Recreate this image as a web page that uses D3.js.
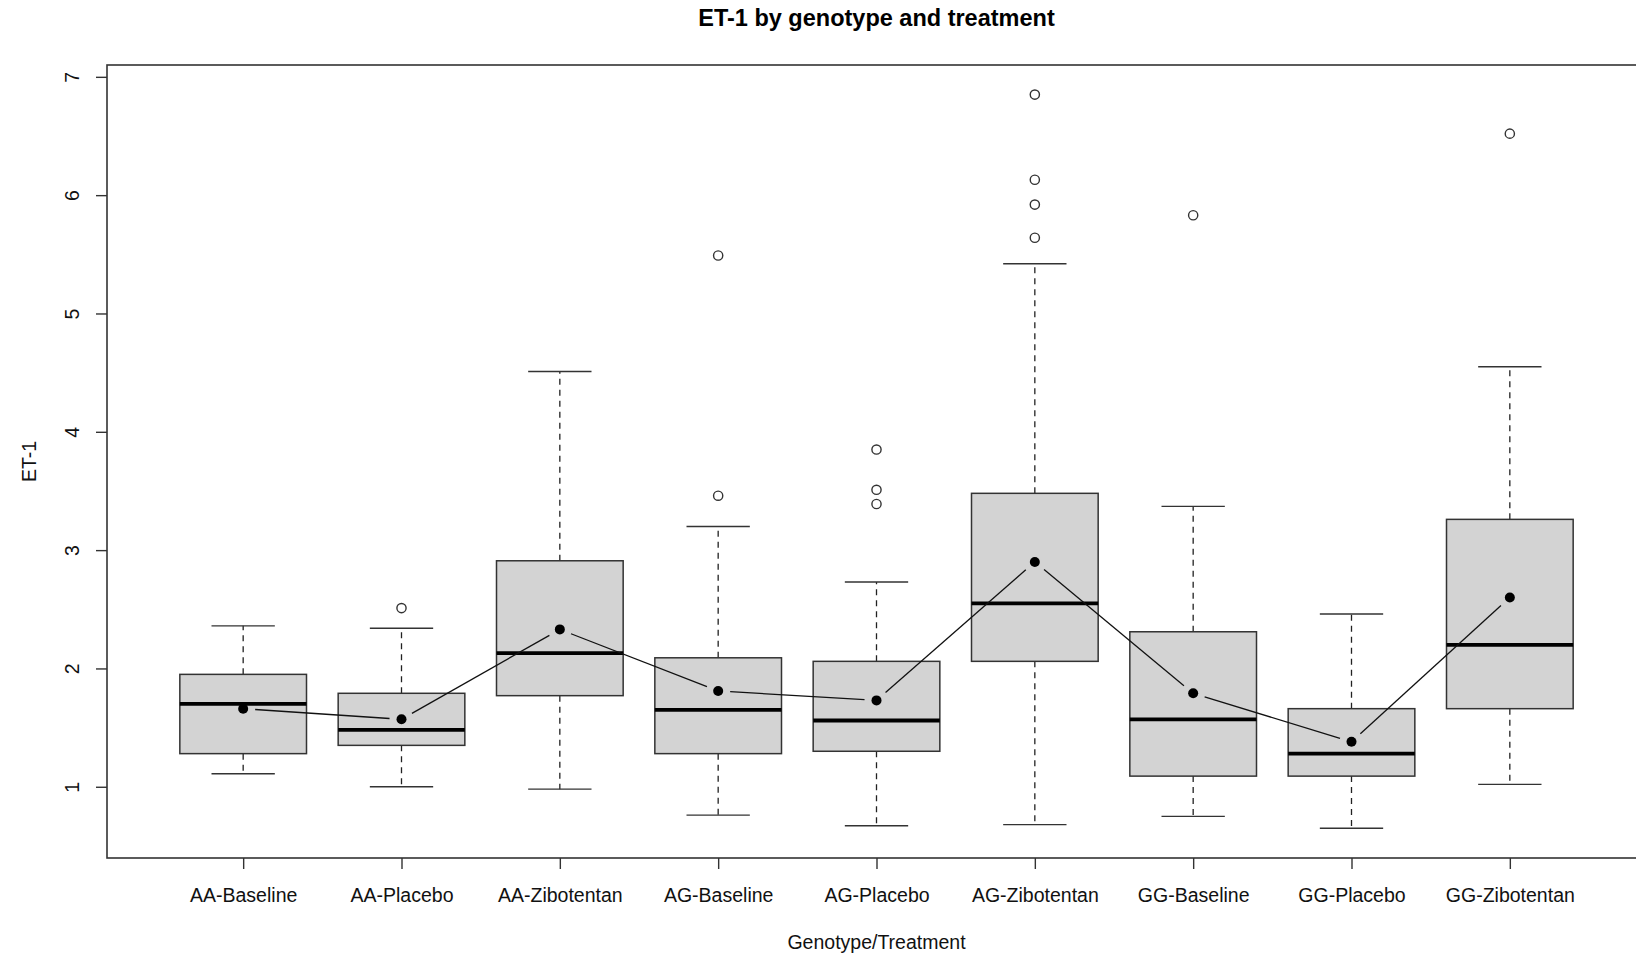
<!DOCTYPE html>
<html>
<head>
<meta charset="utf-8">
<script src="https://cdn.jsdelivr.net/npm/d3@7"></script>
<style>
    html, body { margin: 0; padding: 0; background: #fff; }
    svg { display: block; font-family: 'Liberation Sans', Arial, sans-serif; }
</style>
</head>
<body>
<svg id="chart" width="1636" height="958"></svg>
<script>
// Data
const categories = ['AA-Baseline', 'AA-Placebo', 'AA-Zibotentan', 'AG-Baseline', 'AG-Placebo',
    'AG-Zibotentan', 'GG-Baseline', 'GG-Placebo', 'GG-Zibotentan'];
const whiskerLow = [1.11, 1.00, 0.98, 0.76, 0.67, 0.68, 0.75, 0.65, 1.02];
const q1 = [1.28, 1.35, 1.77, 1.28, 1.30, 2.06, 1.09, 1.09, 1.66];
const medians = [1.70, 1.48, 2.13, 1.65, 1.56, 2.55, 1.57, 1.28, 2.20];
const q3 = [1.95, 1.79, 2.91, 2.09, 2.06, 3.48, 2.31, 1.66, 3.26];
const whiskerHigh = [2.36, 2.34, 4.51, 3.20, 2.73, 5.42, 3.37, 2.46, 4.55];
const means = [1.66, 1.57, 2.33, 1.81, 1.73, 2.90, 1.79, 1.38, 2.60];
const outliers = [
    [],
    [2.51],
    [],
    [3.46, 5.49],
    [3.39, 3.51, 3.85],
    [5.64, 5.92, 6.13, 6.85],
    [5.83],
    [],
    [6.52],
];
const yTicks = [1, 2, 3, 4, 5, 6, 7];

const svg = d3.select('#chart');
const margins = { left: 107, top: 65, right: -10, bottom: 100 };
const width = 1636;
const height = 958;
const plotBottom = height - margins.bottom;
const plotRight = width - margins.right;
const fontSize = '19.5px';

// R-style extended ranges (4% on each side)
const x = d3.scaleLinear()
    .domain([0.14, categories.length + 0.86])
    .range([margins.left, plotRight]);

const y = d3.scaleLinear()
    .domain([0.398, 7.10])
    .range([plotBottom, margins.top]);

const boxWidth = x(1.8) - x(1);
const capWidth = boxWidth / 2;

const boxes = categories.map((name, i) => ({
    name,
    pos: i + 1,
    low: whiskerLow[i],
    q1: q1[i],
    median: medians[i],
    q3: q3[i],
    high: whiskerHigh[i],
    mean: means[i],
    outliers: outliers[i],
}));

// Title and axis labels
svg.append('text')
    .attr('x', (margins.left + plotRight) / 2)
    .attr('y', 26)
    .attr('text-anchor', 'middle')
    .style('font-weight', 'bold')
    .style('font-size', '23.5px')
    .style('fill', '#000')
    .text('ET-1 by genotype and treatment');

svg.append('text')
    .attr('transform', `translate(29, ${(margins.top + plotBottom) / 2}) rotate(-90)`)
    .attr('text-anchor', 'middle')
    .attr('dy', '0.35em')
    .style('font-size', fontSize)
    .style('fill', '#111')
    .text('ET-1');

svg.append('text')
    .attr('x', (margins.left + plotRight) / 2)
    .attr('y', 949)
    .attr('text-anchor', 'middle')
    .style('font-size', fontSize)
    .style('fill', '#111')
    .text('Genotype/Treatment');

// Axes
const yAxis = d3.axisLeft(y)
    .tickValues(yTicks)
    .tickSize(11)
    .tickFormat(d3.format('d'));

const yAxisContainer = svg.append('g')
    .attr('transform', `translate(${margins.left}, 0)`)
    .call(yAxis);

yAxisContainer.select('.domain').remove();
yAxisContainer.selectAll('.tick line').attr('stroke', '#333').attr('stroke-width', 1.4);
yAxisContainer.selectAll('.tick text')
    .attr('x', null)
    .attr('dy', '0.35em')
    .attr('transform', 'translate(-35, 0) rotate(-90)')
    .style('text-anchor', 'middle')
    .style('font-size', fontSize)
    .style('fill', '#111')
    .style('font-family', "'Liberation Sans', Arial, sans-serif");

const xAxis = d3.axisBottom(x)
    .tickValues(boxes.map(d => d.pos))
    .tickSize(11)
    .tickFormat(d => categories[d - 1]);

const xAxisContainer = svg.append('g')
    .attr('transform', `translate(0, ${plotBottom})`)
    .call(xAxis);

xAxisContainer.select('.domain').remove();
xAxisContainer.selectAll('.tick line').attr('stroke', '#333').attr('stroke-width', 1.4);
xAxisContainer.selectAll('.tick text')
    .attr('y', 44)
    .attr('dy', null)
    .style('font-size', fontSize)
    .style('fill', '#111')
    .style('font-family', "'Liberation Sans', Arial, sans-serif");

// Boxes
const dataContainer = svg.append('g').attr('class', 'data-container');

const groups = dataContainer.selectAll('g.box')
    .data(boxes)
    .enter()
    .append('g')
    .attr('class', 'box');

groups.each(function(d) {
    const g = d3.select(this);
    const cx = x(d.pos);

    // dashed whiskers
    g.append('line')
        .attr('x1', cx).attr('x2', cx)
        .attr('y1', y(d.q3)).attr('y2', y(d.high))
        .attr('stroke', '#222')
        .attr('stroke-width', 1.3)
        .attr('stroke-dasharray', '6 5');
    g.append('line')
        .attr('x1', cx).attr('x2', cx)
        .attr('y1', y(d.q1)).attr('y2', y(d.low))
        .attr('stroke', '#222')
        .attr('stroke-width', 1.3)
        .attr('stroke-dasharray', '6 5');

    // caps
    [d.low, d.high].forEach(v => {
        g.append('line')
            .attr('x1', cx - capWidth / 2).attr('x2', cx + capWidth / 2)
            .attr('y1', y(v)).attr('y2', y(v))
            .attr('stroke', '#333')
            .attr('stroke-width', 1.4);
    });

    g.append('rect')
        .attr('x', cx - boxWidth / 2)
        .attr('width', boxWidth)
        .attr('y', y(d.q3))
        .attr('height', y(d.q1) - y(d.q3))
        .attr('fill', '#d3d3d3')
        .attr('stroke', '#333')
        .attr('stroke-width', 1.5);

    g.append('line')
        .attr('x1', cx - boxWidth / 2).attr('x2', cx + boxWidth / 2)
        .attr('y1', y(d.median)).attr('y2', y(d.median))
        .attr('stroke', '#000')
        .attr('stroke-width', 3.8);

    g.selectAll('circle.outlier')
        .data(d.outliers)
        .enter()
        .append('circle')
        .attr('class', 'outlier')
        .attr('cx', cx)
        .attr('cy', v => y(v))
        .attr('r', 4.6)
        .attr('fill', 'none')
        .attr('stroke', '#333')
        .attr('stroke-width', 1.4);
});

// Mean line (type = "b": segments with gaps around the points)
const gap = 12;
const meanPoints = boxes.map(d => [x(d.pos), y(d.mean)]);
const segments = d3.pairs(meanPoints).map(([a, b]) => {
    const dx = b[0] - a[0];
    const dy = b[1] - a[1];
    const len = Math.hypot(dx, dy);
    const ux = dx / len;
    const uy = dy / len;
    return [[a[0] + ux * gap, a[1] + uy * gap], [b[0] - ux * gap, b[1] - uy * gap]];
});

const line = d3.line();

dataContainer.selectAll('path.mean-line')
    .data(segments)
    .enter()
    .append('path')
    .attr('class', 'mean-line')
    .attr('d', d => line(d))
    .attr('fill', 'none')
    .attr('stroke', '#111')
    .attr('stroke-width', 1.3);

dataContainer.selectAll('circle.mean')
    .data(boxes)
    .enter()
    .append('circle')
    .attr('class', 'mean')
    .attr('cx', d => x(d.pos))
    .attr('cy', d => y(d.mean))
    .attr('r', 5)
    .attr('fill', '#000');

// Plot frame
svg.append('rect')
    .attr('x', margins.left)
    .attr('y', margins.top)
    .attr('width', plotRight - margins.left)
    .attr('height', plotBottom - margins.top)
    .attr('fill', 'none')
    .attr('stroke', '#333')
    .attr('stroke-width', 1.6);
</script>
</body>
</html>
